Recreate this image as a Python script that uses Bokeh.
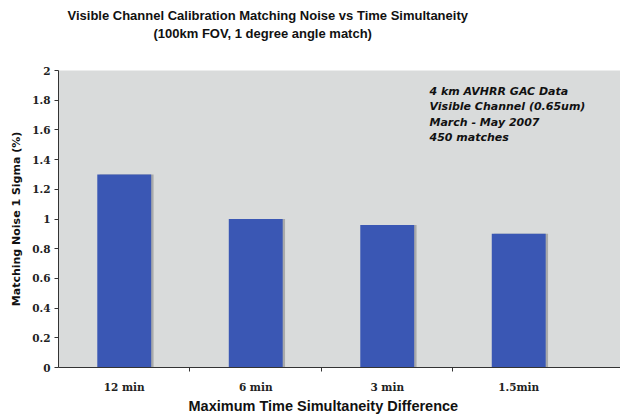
from bokeh.plotting import figure
from bokeh.models import ColumnDataSource, Range1d, FixedTicker, Label, Title
from bokeh.transform import dodge
from bokeh.embed import file_html
from bokeh.resources import INLINE

categories = ["12 min", "6 min", "3 min", "1.5min"]
noise = [1.3, 1.0, 0.96, 0.9]
y_ticks = [0, 0.2, 0.4, 0.6, 0.8, 1.0, 1.2, 1.4, 1.6, 1.8, 2.0]
y_tick_labels = ["0", "0.2", "0.4", "0.6", "0.8", "1", "1.2", "1.4", "1.6", "1.8", "2"]
title_lines = ["Visible Channel Calibration Matching Noise vs Time Simultaneity",
               "(100km FOV, 1 degree angle match)"]
note_lines = ["4 km AVHRR GAC Data", "Visible Channel (0.65um)", "March - May 2007", "450 matches"]
x_title = "Maximum Time Simultaneity Difference"
y_title = "Matching Noise 1 Sigma (%)"

pos = [i + 0.5 for i in range(len(categories))]
src = ColumnDataSource(dict(x=pos, top=noise, cat=categories))

p = figure(width=620, height=414, output_backend="svg", toolbar_location=None,
           x_range=Range1d(0, 4.274), y_range=Range1d(0, 2),
           min_border_left=58, min_border_right=0, min_border_top=70, min_border_bottom=47)
p.background_fill_color = "#d9dbdb"
p.border_fill_color = "white"
p.outline_line_color = None

# shadow then bars
p.vbar(x=dodge("x", 0.018, range=p.x_range), top="top", width=0.41, bottom=0,
       source=src, fill_color="#a9aaaa", line_color=None)
p.vbar(x="x", top="top", width=0.41, bottom=0, source=src,
       fill_color="#3a57b4", line_color=None)

# x axis
xa = p.xaxis[0]
xa.ticker = FixedTicker(ticks=pos, minor_ticks=[1, 2, 3])
xa.major_label_overrides = {v: c for v, c in zip(pos, categories)}
xa.major_tick_out = 0
xa.major_tick_in = 0
xa.minor_tick_out = 4
xa.minor_tick_in = 0
xa.minor_tick_line_color = "#333333"
xa.axis_line_color = "#333333"
xa.major_label_text_font = "DejaVu Serif"
xa.major_label_text_font_style = "bold"
xa.major_label_text_font_size = "10.5px"
xa.major_label_text_color = "#222222"
xa.major_label_standoff = 9

# y axis
ya = p.yaxis[0]
ya.ticker = FixedTicker(ticks=y_ticks, minor_ticks=[])
ya.major_label_overrides = {v: s for v, s in zip(y_ticks, y_tick_labels)}
ya.major_tick_out = 4
ya.major_tick_in = 0
ya.major_tick_line_color = "#333333"
ya.axis_line_color = "#333333"
ya.major_label_text_font = "DejaVu Serif"
ya.major_label_text_font_style = "bold"
ya.major_label_text_font_size = "10.5px"
ya.major_label_text_color = "#222222"
ya.major_label_standoff = 4
ya.axis_label = y_title
ya.axis_label_text_font = "DejaVu Sans"
ya.axis_label_text_font_style = "bold"
ya.axis_label_text_font_size = "11px"
ya.axis_label_text_color = "#111111"
ya.axis_label_standoff = 6

p.xgrid.grid_line_color = None
p.ygrid.ticker = FixedTicker(ticks=[2.0])
p.ygrid.grid_line_color = "#a8a8a8"

# titles: first added sits nearest the frame (spacer, line 2, line 1)
p.add_layout(Title(text=" ", text_font_size="13px", standoff=13), "above")
p.add_layout(Title(text=title_lines[1], align="left", offset=95,
                   text_font="Liberation Sans", text_font_style="bold",
                   text_font_size="13px", text_color="#111111", standoff=0), "above")
p.add_layout(Title(text=title_lines[0], align="left", offset=9,
                   text_font="Liberation Sans", text_font_style="bold",
                   text_font_size="13px", text_color="#111111", standoff=1), "above")

p.add_layout(Title(text=x_title, align="left", offset=130,
                   text_font="Liberation Sans", text_font_style="bold",
                   text_font_size="14.5px", text_color="#111111", standoff=1), "below")

for i, t in enumerate(note_lines):
    p.add_layout(Label(x=371, y=297 - 21 - i * 15.3, x_units="screen", y_units="screen", text=t,
                       text_align="left", text_baseline="middle",
                       text_font="DejaVu Sans", text_font_style="bold italic",
                       text_font_size="11px", text_color="#111111"))

open("out.html", "w").write(file_html(p, INLINE))
